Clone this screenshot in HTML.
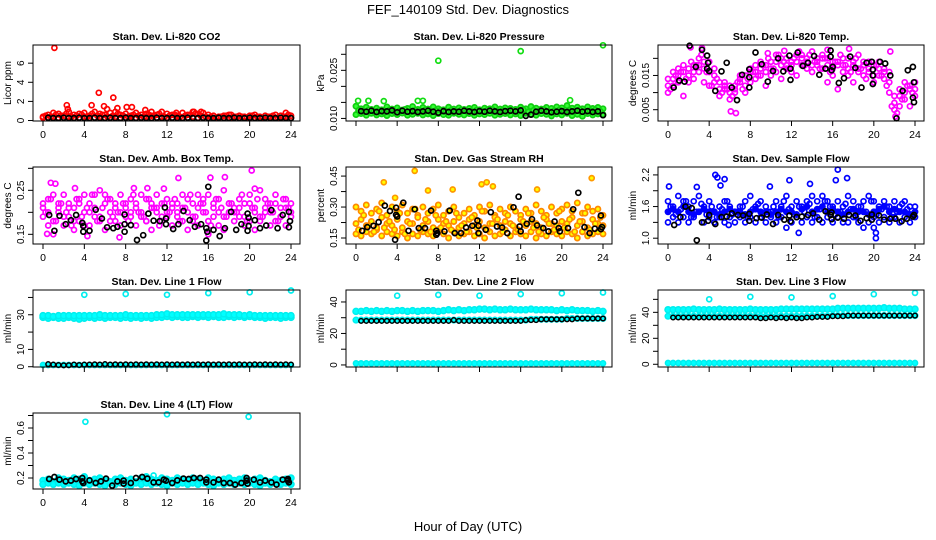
<!DOCTYPE html>
<html><head><meta charset="utf-8"><style>
html,body{margin:0;padding:0;background:#fff}
svg{display:block;font-family:"Liberation Sans",Arial,sans-serif}
</style></head><body>
<svg id="chart" width="936" height="540" viewBox="0 0 936 540" xmlns="http://www.w3.org/2000/svg">
<rect width="936" height="540" fill="#fff"/>
<text x="468" y="14" font-size="13" text-anchor="middle">FEF_140109  Std. Dev. Diagnostics</text>
<text x="468" y="531" font-size="13" text-anchor="middle">Hour of Day (UTC)</text>
</svg>
<script>
const H=[0,0.5,1,1.5,2,2.5,3,3.5,4,4.5,5,5.5,6,6.5,7,7.5,8,8.5,9,9.5,10,10.5,11,11.5,12,12.5,13,13.5,14,14.5,15,15.5,16,16.5,17,17.5,18,18.5,19,19.5,20,20.5,21,21.5,22,22.5,23,23.5,24];
const H2=[0.25,0.75,1.25,1.75,2.25,2.75,3.25,3.75,4.25,4.75,5.25,5.75,6.25,6.75,7.25,7.75,8.25,8.75,9.25,9.75,10.25,10.75,11.25,11.75,12.25,12.75,13.25,13.75,14.25,14.75,15.25,15.75,16.25,16.75,17.25,17.75,18.25,18.75,19.25,19.75,20.25,20.75,21.25,21.75,22.25,22.75,23.25,23.75];
const xTicks=[0,4,8,12,16,20,24];
const xTickLabels=["0","4","8","12","16","20","24"];

// Panel 1 CO2
const co2A=[0.4,0.6,0.8,0.7,0.5,0.9,0.6,0.7,0.8,0.5,0.9,0.7,0.6,0.8,0.9,0.6,0.7,0.5,0.8,0.6,0.7,0.5,0.6,0.9,0.7,0.6,0.5,0.8,0.6,0.9,0.7,0.8,0.6,0.5,0.4,0.5,0.6,0.4,0.5,0.4,0.5,0.6,0.4,0.5,0.4,0.6,0.5,0.4,0.5];
const co2B=[0.3,0.3,0.4,0.3,0.3,0.4,0.3,0.3,0.4,0.3,0.3,0.4,0.3,0.3,0.4,0.3,0.3,0.4,0.3,0.3,0.4,0.3,0.3,0.4,0.3,0.3,0.4,0.3,0.3,0.4,0.3,0.3,0.3,0.3,0.3,0.3,0.3,0.3,0.3,0.3,0.3,0.3,0.3,0.3,0.3,0.3,0.3,0.3,0.3];
const co2D=[0.5,0.4,0.6,0.5,0.7,0.4,0.5,0.6,0.4,0.7,0.5,0.6,0.4,0.5,0.7,0.5,0.4,0.6,0.5,0.4,0.6,0.5,0.7,0.4,0.5,0.6,0.4,0.5,0.6,0.7,0.5,0.4,0.4,0.3,0.4,0.5,0.3,0.4,0.4,0.3,0.5,0.4,0.3,0.4,0.5,0.3,0.4,0.6];
const co2OutX=[1.1,2.3,2.4,4.7,5.4,5.9,6.2,6.8,7.2,8.1,8.6,9.9,10.5,12.9,14.6,15.3,18.2,23.5];
const co2OutY=[7.6,1.6,1.2,1.6,2.9,1.5,1.2,2.4,1.3,1.4,1.4,1.1,0.9,0.8,0.9,0.9,0.6,0.8];
const co2K=[null,0.3,0.25,0.25,0.3,0.25,0.25,0.3,0.25,0.25,0.3,0.25,0.25,0.3,0.25,0.25,0.3,0.25,0.25,0.3,0.25,0.25,0.3,0.25,0.25,0.3,0.25,0.25,0.3,0.25,0.25,0.3,0.25,0.25,0.3,0.25,0.25,0.3,0.25,0.25,0.3,0.25,0.25,0.3,0.25,0.25,0.3,0.25,0.25];
const co2Ticks=[0,2,4,6];const co2Labels=["0","2","4","6"];

// Panel 2 Pressure
const prA=[0.0138,0.0130,0.0135,0.0128,0.0132,0.0127,0.0136,0.0129,0.0133,0.0126,0.0131,0.0137,0.0128,0.0134,0.0129,0.0136,0.0130,0.0127,0.0135,0.0129,0.0133,0.0128,0.0131,0.0134,0.0127,0.0132,0.0130,0.0136,0.0129,0.0133,0.0131,0.0128,0.0135,0.0130,0.0137,0.0132,0.0129,0.0134,0.0131,0.0136,0.0133,0.0140,0.0132,0.0135,0.0130,0.0136,0.0131,0.0134,0.0130];
const prB=[0.0112,0.0115,0.0110,0.0116,0.0111,0.0114,0.0109,0.0115,0.0112,0.0117,0.0110,0.0113,0.0116,0.0111,0.0114,0.0109,0.0115,0.0112,0.0110,0.0116,0.0113,0.0111,0.0115,0.0110,0.0114,0.0112,0.0116,0.0110,0.0113,0.0115,0.0111,0.0114,0.0109,0.0116,0.0112,0.0110,0.0115,0.0113,0.0108,0.0114,0.0111,0.0116,0.0109,0.0113,0.0107,0.0115,0.0111,0.0114,0.0112];
const prD=[0.0125,0.0120,0.0127,0.0122,0.0125,0.0119,0.0126,0.0121,0.0124,0.0128,0.0120,0.0125,0.0122,0.0127,0.0119,0.0124,0.0126,0.0121,0.0125,0.0120,0.0127,0.0123,0.0119,0.0126,0.0122,0.0125,0.0128,0.0121,0.0124,0.0120,0.0126,0.0123,0.0127,0.0120,0.0125,0.0122,0.0128,0.0121,0.0124,0.0126,0.0120,0.0125,0.0123,0.0127,0.0121,0.0124,0.0126,0.0122];
const prOutX=[0.2,1.2,2.7,6.0,6.5,8.0,16.0,20.8,24.0];
const prOutY=[0.0155,0.0155,0.0154,0.0155,0.0155,0.0280,0.0310,0.0157,0.0328];
const prK=[null,0.0123,0.0121,0.0124,0.0120,0.0123,0.0122,0.0125,0.0119,0.0124,0.0121,0.0123,0.0120,0.0122,0.0124,0.0121,0.0118,0.0123,0.0120,0.0122,0.0121,0.0124,0.0122,0.0120,0.0123,0.0121,0.0124,0.0122,0.0120,0.0123,0.0124,0.0122,0.0125,0.0108,0.0112,0.0121,0.0124,0.0122,0.0119,0.0121,0.0123,0.0120,0.0122,0.0124,0.0121,0.0123,0.0120,0.0122,0.0110];
const prTicks=[0.010,0.015,0.020,0.025,0.030];const prLabels=["0.010","","","0.025",""];

// Panel 3 Li-820 Temp
const tA=[0.014,0.012,0.017,0.016,0.013,0.018,0.020,0.017,0.019,0.015,0.013,0.011,0.012,0.010,0.013,0.012,0.016,0.018,0.017,0.016,0.019,0.021,0.018,0.020,0.019,0.021,0.018,0.020,0.022,0.019,0.021,0.018,0.017,0.019,0.016,0.020,0.018,0.017,0.019,0.016,0.018,0.015,0.017,0.016,0.007,0.009,0.008,0.012,0.011];
const tB=[0.010,0.016,0.013,0.009,0.015,0.014,0.016,0.013,0.012,0.017,0.009,0.013,0.008,0.011,0.015,0.010,0.013,0.014,0.015,0.012,0.017,0.016,0.014,0.018,0.016,0.015,0.020,0.017,0.016,0.018,0.020,0.013,0.019,0.011,0.018,0.015,0.013,0.021,0.015,0.019,0.013,0.017,0.014,0.010,0.005,0.011,0.013,0.006,0.009];
const tC=[0.012,0.014,0.015,0.018,0.017,0.016,0.018,0.019,0.016,0.013,0.011,0.012,0.010,0.012,0.014,0.015,0.017,0.016,0.019,0.018,0.015,0.019,0.020,0.017,0.018,0.019,0.021,0.019,0.018,0.020,0.017,0.020,0.015,0.018,0.020,0.017,0.019,0.016,0.018,0.017,0.015,0.019,0.016,0.013,0.009,0.006,0.010,0.011,0.013];
const tD=[0.011,0.015,0.016,0.014,0.019,0.018,0.021,0.016,0.012,0.014,0.010,0.011,0.009,0.013,0.011,0.014,0.016,0.015,0.018,0.020,0.017,0.021,0.019,0.017,0.020,0.022,0.018,0.021,0.019,0.017,0.020,0.016,0.019,0.021,0.018,0.016,0.020,0.017,0.014,0.019,0.018,0.015,0.012,0.006,0.004,0.008,0.012,0.010];
const tOutX=[2.2,3.3,6.1,6.6,9.7,11.3,15.5,17.6,21.6,22.1];
const tOutY=[0.0232,0.0230,0.0045,0.0040,0.0215,0.0222,0.0225,0.0228,0.0220,0.0030];
const tKX=[0.55,1.1,1.6,2.1,2.7,3.3,3.8,3.9,3.8,4.0,4.6,5.2,5.7,6.2,6.7,7.2,7.9,7.9,7.9,8.5,9.1,9.7,10.2,10.7,11.2,11.8,11.9,11.9,12.6,13.1,13.6,14.2,14.7,15.3,15.8,15.8,15.9,16.0,16.6,17.1,17.7,18.2,18.8,19.3,19.8,19.9,19.9,19.9,20.6,21.1,21.6,22.2,22.8,23.3,23.8,23.9,23.8,23.9];
const tKY=[0.0115,0.0135,0.0132,0.0237,0.0175,0.0225,0.0208,0.0187,0.0170,0.0163,0.0105,0.0162,0.0187,0.0115,0.0078,0.0152,0.0145,0.0115,0.0168,0.0217,0.0183,0.0132,0.0163,0.0200,0.0162,0.0208,0.0137,0.0170,0.0217,0.0178,0.0187,0.0207,0.0152,0.0170,0.0223,0.0205,0.0165,0.0175,0.0128,0.0142,0.0205,0.0172,0.0115,0.0187,0.0190,0.0167,0.0150,0.0125,0.0190,0.0185,0.0150,0.0025,0.0105,0.0165,0.0175,0.0130,0.0085,0.0072];
const tTicks=[0.005,0.010,0.015,0.020];const tLabels=["0.005","","0.015",""];

// Panel 4 Amb Box Temp
const abA=[0.22,0.23,0.24,0.21,0.24,0.22,0.21,0.23,0.24,0.22,0.24,0.25,0.24,0.23,0.22,0.24,0.21,0.23,0.22,0.24,0.23,0.21,0.24,0.22,0.23,0.21,0.22,0.24,0.23,0.22,0.24,0.23,0.24,0.22,0.23,0.25,0.22,0.21,0.23,0.22,0.24,0.21,0.25,0.23,0.22,0.24,0.21,0.23,0.22];
const abB=[0.19,0.17,0.18,0.20,0.17,0.19,0.16,0.18,0.20,0.17,0.19,0.18,0.16,0.20,0.18,0.17,0.19,0.20,0.17,0.19,0.18,0.16,0.20,0.18,0.19,0.17,0.20,0.18,0.16,0.19,0.17,0.20,0.18,0.19,0.17,0.16,0.20,0.18,0.19,0.17,0.18,0.16,0.19,0.20,0.17,0.18,0.19,0.17,0.19];
const abC=[0.21,0.20,0.15,0.22,0.19,0.21,0.18,0.22,0.17,0.20,0.21,0.19,0.22,0.18,0.21,0.20,0.22,0.19,0.21,0.20,0.18,0.22,0.21,0.19,0.20,0.22,0.19,0.21,0.20,0.18,0.21,0.22,0.15,0.21,0.20,0.19,0.22,0.20,0.21,0.19,0.22,0.20,0.18,0.21,0.20,0.22,0.19,0.21,0.20];
const abD=[0.20,0.23,0.18,0.22,0.20,0.17,0.23,0.19,0.21,0.24,0.18,0.21,0.23,0.19,0.20,0.22,0.18,0.24,0.20,0.19,0.23,0.21,0.17,0.22,0.20,0.23,0.18,0.21,0.24,0.19,0.22,0.20,0.17,0.23,0.21,0.19,0.22,0.20,0.24,0.18,0.21,0.23,0.19,0.22,0.20,0.18,0.23,0.21];
const abOutX=[0.75,1.2,3.1,8.8,10.1,11.7,13.1,16.2,17.6,20.2,20.5,0.4,4.3,7.4];
const abOutY=[0.267,0.265,0.255,0.255,0.255,0.254,0.278,0.279,0.280,0.295,0.254,0.151,0.146,0.143];
const abKX=[0.6,1.1,1.6,2.2,2.7,3.2,3.8,3.9,3.9,4.5,5.1,5.7,6.2,6.8,7.2,7.9,7.9,7.9,8.5,9.1,9.7,10.2,10.7,11.3,11.8,11.9,11.9,12.6,13.1,13.6,14.2,14.7,15.3,15.8,16.0,15.8,15.9,16.5,17.1,17.6,18.2,18.7,19.2,19.8,19.9,19.9,19.8,20.5,21.0,21.6,22.1,22.7,23.2,23.8,23.9,23.8];
const abKY=[0.194,0.158,0.192,0.173,0.182,0.194,0.176,0.169,0.156,0.158,0.206,0.186,0.166,0.164,0.167,0.195,0.173,0.156,0.171,0.137,0.148,0.197,0.181,0.180,0.211,0.186,0.173,0.162,0.173,0.203,0.182,0.167,0.173,0.164,0.258,0.136,0.156,0.160,0.146,0.164,0.201,0.160,0.173,0.197,0.188,0.169,0.158,0.182,0.164,0.170,0.205,0.164,0.194,0.201,0.180,0.166];
const abTicks=[0.15,0.20,0.25,0.30];const abLabels=["0.15","","0.25",""];

// Panel 5 Gas Stream RH
const rhA=[0.30,0.28,0.31,0.27,0.29,0.32,0.26,0.30,0.28,0.31,0.27,0.29,0.26,0.30,0.27,0.29,0.31,0.26,0.28,0.30,0.25,0.27,0.29,0.26,0.30,0.28,0.31,0.26,0.29,0.27,0.30,0.28,0.26,0.29,0.27,0.31,0.28,0.26,0.30,0.27,0.29,0.31,0.28,0.32,0.27,0.30,0.28,0.29,0.26];
const rhB=[0.17,0.16,0.18,0.17,0.19,0.16,0.18,0.17,0.16,0.18,0.15,0.17,0.16,0.18,0.17,0.16,0.19,0.17,0.15,0.18,0.16,0.17,0.18,0.16,0.17,0.15,0.18,0.16,0.17,0.19,0.16,0.18,0.17,0.16,0.18,0.15,0.17,0.16,0.18,0.17,0.16,0.18,0.17,0.15,0.18,0.16,0.17,0.18,0.17];
const rhC=[0.22,0.24,0.21,0.23,0.20,0.25,0.22,0.21,0.24,0.20,0.23,0.22,0.25,0.21,0.23,0.20,0.24,0.22,0.21,0.23,0.20,0.22,0.24,0.21,0.23,0.20,0.22,0.25,0.21,0.23,0.22,0.20,0.24,0.21,0.23,0.22,0.20,0.24,0.22,0.21,0.23,0.22,0.25,0.21,0.23,0.20,0.24,0.22,0.21];
const rhD=[0.19,0.26,0.21,0.18,0.28,0.20,0.23,0.19,0.27,0.17,0.22,0.29,0.19,0.24,0.18,0.26,0.20,0.23,0.19,0.27,0.21,0.18,0.25,0.20,0.28,0.19,0.22,0.24,0.18,0.26,0.21,0.19,0.23,0.27,0.20,0.18,0.25,0.22,0.19,0.28,0.20,0.24,0.18,0.23,0.27,0.19,0.22,0.25];
const rhOutX=[2.7,5.7,3.8,7.0,9.4,12.2,12.7,13.3,17.6,22.9];
const rhOutY=[0.420,0.475,0.345,0.380,0.385,0.410,0.420,0.400,0.385,0.440];
const rhKX=[0.6,1.1,1.7,2.2,2.8,3.3,3.9,3.9,4.0,3.8,4.6,5.1,5.7,6.1,6.7,7.3,7.8,7.8,7.9,8.6,9.1,9.6,10.2,10.7,11.3,11.8,11.9,11.9,12.6,13.1,13.7,14.2,14.7,15.3,15.8,15.9,16.0,16.6,17.1,17.6,18.2,18.7,19.3,19.7,19.8,20.6,21.1,21.6,22.2,22.7,23.2,23.8,23.9,23.8];
const rhKY=[0.185,0.203,0.209,0.227,0.307,0.281,0.297,0.262,0.254,0.142,0.321,0.185,0.289,0.198,0.198,0.283,0.185,0.166,0.174,0.182,0.283,0.174,0.174,0.201,0.209,0.235,0.209,0.174,0.190,0.275,0.206,0.201,0.174,0.299,0.350,0.206,0.182,0.219,0.241,0.211,0.198,0.182,0.230,0.198,0.182,0.198,0.289,0.369,0.203,0.174,0.195,0.259,0.203,0.193];
const rhTicks=[0.15,0.225,0.30,0.375,0.45];const rhLabels=["0.15","","0.30","","0.45"];

// Panel 6 Sample Flow
const sfA=[1.7,1.6,1.8,1.7,1.6,1.7,1.8,1.6,1.7,1.5,1.6,1.7,1.6,1.5,1.6,1.7,1.8,1.6,1.7,1.6,1.5,1.7,1.6,1.8,1.6,1.7,1.6,1.7,1.8,1.7,1.8,1.7,1.6,1.7,1.6,1.8,1.7,1.6,1.7,1.8,1.7,1.6,1.7,1.6,1.7,1.6,1.7,1.6,1.6];
const sfB=[1.3,1.4,1.3,1.4,1.3,1.4,1.5,1.3,1.4,1.3,1.4,1.3,1.4,1.3,1.4,1.3,1.4,1.3,1.4,1.3,1.4,1.3,1.4,1.2,1.3,1.4,1.3,1.4,1.3,1.4,1.3,1.4,1.3,1.4,1.3,1.3,1.4,1.3,1.2,1.3,1.4,1.3,1.4,1.3,1.4,1.3,1.4,1.3,1.4];
const sfC=[1.5,1.55,1.5,1.6,1.5,1.45,1.5,1.55,1.5,1.5,1.45,1.5,1.55,1.5,1.5,1.45,1.5,1.55,1.5,1.5,1.45,1.5,1.55,1.5,1.5,1.45,1.55,1.6,1.5,1.55,1.6,1.5,1.55,1.5,1.45,1.5,1.55,1.5,1.5,1.45,1.5,1.55,1.6,1.5,1.55,1.5,1.5,1.45,1.5];
const sfD=[1.6,1.45,1.55,1.7,1.4,1.5,1.65,1.45,1.6,1.4,1.55,1.7,1.45,1.5,1.6,1.4,1.55,1.65,1.45,1.5,1.6,1.4,1.7,1.55,1.45,1.6,1.5,1.65,1.4,1.55,1.7,1.6,1.45,1.5,1.65,1.55,1.4,1.6,1.5,1.7,1.45,1.55,1.6,1.4,1.5,1.65,1.55,1.45];
const sfOutX=[0.1,2.8,4.6,4.8,5.1,5.5,9.9,11.8,13.8,16.3,16.5,17.4,20.0,20.2,12.7,5.9,20.2];
const sfOutY=[1.98,1.97,2.20,2.15,2.00,2.12,1.98,2.10,2.03,2.10,2.30,2.14,1.20,1.10,1.10,1.25,1.00];
const sfKX=[0.6,1.2,1.7,2.3,2.8,3.3,3.9,4.0,4.6,5.2,5.7,6.2,6.8,7.3,7.9,7.9,8.6,9.1,9.6,10.2,10.7,11.3,11.8,11.9,12.5,13.0,13.6,14.1,14.7,15.3,15.8,15.9,15.9,16.5,17.1,17.6,18.2,18.7,19.3,19.8,19.8,20.5,21.0,21.6,22.1,22.7,23.2,23.8,23.9];
const sfKY=[1.25,1.40,1.60,1.57,0.96,1.30,1.33,1.44,1.27,1.40,1.41,1.47,1.44,1.43,1.46,1.33,1.38,1.39,1.45,1.27,1.44,1.35,1.43,1.32,1.40,1.41,1.44,1.47,1.35,1.51,1.44,1.36,1.49,1.39,1.37,1.44,1.43,1.33,1.38,1.45,1.35,1.43,1.35,1.37,1.37,1.32,1.37,1.41,1.44];
const sfTicks=[1.0,1.3,1.6,1.9,2.2];const sfLabels=["1.0","","1.6","","2.2"];

// Panel 7 Line 1 Flow
const l1A=[28.5,28,28.5,28,28,28.5,28,27.5,28,28.5,28,28.5,28,28.5,28.5,28,28.5,28,28.5,28,28.5,28,28.5,28.5,29,28.5,29,28.5,28.5,29,28.5,29,28.5,29,28.5,28.5,29,28.5,29,28.5,29,28.5,28.5,28,28.5,28.5,28,28.5,28.5];
const l1B=[29.5,29.5,29,29.5,29.5,29.5,29.5,29.5,29.5,29.5,29.5,30,29.5,29.5,29.5,29.5,30,29.5,29.5,29.5,29.5,29.5,30,30,30.5,30,30,30,30,30,30,30,30,30,30,30.5,30,30,30,29.5,30,29.5,29.5,29.5,29.5,29.5,29.5,29.5,29.5];
const l1C=[1,1,1,1,1,1,1,1,1,1,1,1,1,1,1,1,1,1,1,1,1,1,1,1,1,1,1,1,1,1,1,1,1,1,1,1,1,1,1,1,1,1,1,1,1,1,1,1,1];
const l1OutX=[4,8,12,16,20,24];const l1OutY=[41.5,42,41.5,42.5,43,44];
const l1K=[null,1.5,1.2,1.0,0.8,0.9,1.3,1.0,1.2,1.3,1.4,1.3,1.5,1.3,1.4,1.3,1.4,1.3,1.4,1.3,1.4,1.3,1.4,1.3,1.4,1.3,1.4,1.3,1.4,1.3,1.4,1.3,1.4,1.3,1.4,1.3,1.4,1.3,1.4,1.3,1.3,1.4,1.3,1.4,1.3,1.4,1.3,1.4,1.3];
const l1Ticks=[0,10,20,30,40];const l1Labels=["0","10","","30",""];

// Panel 8 Line 2 Flow
const l2A=[34,34,34.5,34,34.5,34,34.5,34,34.5,34.5,34,34.5,34,34.5,34.5,34.5,34,34.5,35,34.5,35,34.5,35,35,35.5,35.5,35,35.5,35,35,35.5,35,35,35,35.5,35,35,35,35,34.5,35,34.5,35,34.5,34.5,34.5,34,34.5,34];
const l2B=[28.5,28.5,28.5,28.5,28.5,28.5,28.5,28.5,28.5,28.5,28.5,28.5,28.5,28.5,28.5,28.5,28.5,28.5,28.5,28.5,28.5,28.5,28.5,28.5,28.5,28.5,28.5,28.5,28.5,28.5,28.5,28.5,28.5,28.5,29,29,29,29,29,29,29,29.5,29.5,29.5,29.5,29.5,29.5,29.5,29.5];
const l2C=[1,1,1,1,1,1,1,1,1,1,1,1,1,1,1,1,1,1,1,1,1,1,1,1,1,1,1,1,1,1,1,1,1,1,1,1,1,1,1,1,1,1,1,1,1,1,1,1,1];
const l2OutX=[4,8,12,16,20,24];const l2OutY=[44,44.5,44,45,45.5,46];
const l2K=[null,28,28,28,28,28,28,28,28,28,28,28,28,28,28,28,28,28,28,28.5,28,28,28,28,28,28,28,28,28,28,28,28,28,28.5,28.5,28.5,29,29,29,29,29,29,29,29.5,29.5,29.5,29.5,29.5,29.5];
const l2Ticks=[0,10,20,30,40];const l2Labels=["0","","20","","40"];

// Panel 9 Line 3 Flow
const l3A=[42,42,42,42,42,42.5,42,42,42,42,42.5,42,42,42,42,42,42.5,42,42,42,42,42,42.5,42.5,42.5,42.5,42.5,42.5,42.5,42.5,42.5,42.5,42.5,43,43,43,43,43,43,43,43,43,43.5,43,43,43,42.5,42.5,42.5];
const l3B=[37,37,37,37,37,37,37,37,37,37,37,37,37,37,37,37,37,37,37,37,37,37,37,37,37,37,37,37,37,37,37,37,37.5,37.5,37.5,37.5,37.5,37.5,37.5,37.5,37.5,37.5,37.5,37.5,37.5,37.5,37.5,37.5,37.5];
const l3C=[1,1,1,1,1,1,1,1,1,1,1,1,1,1,1,1,1,1,1,1,1,1,1,1,1,1,1,1,1,1,1,1,1,1,1,1,1,1,1,1,1,1,1,1,1,1,1,1,1];
const l3OutX=[4,8,12,16,20,24];const l3OutY=[50,52,51.5,52.5,54,55];
const l3K=[null,36,36,36,36,36,36,36,36,36,36,36,36,36,36,36,36,36,35.5,35.5,36,35.5,36,35.5,36,35.5,35.5,36,36,36.5,36.5,36.5,37,37,37,37.5,37.5,37.5,37.5,37.5,37.5,37.5,37.5,37.5,37.5,37.5,37.5,37.5,37.5];
const l3Ticks=[0,10,20,30,40,50];const l3Labels=["0","","20","","40",""];

// Panel 10 Line 4 (LT) Flow
const l4A=[0.18,0.19,0.17,0.2,0.19,0.18,0.2,0.19,0.21,0.18,0.19,0.2,0.18,0.17,0.19,0.2,0.18,0.19,0.17,0.2,0.21,0.19,0.18,0.2,0.19,0.18,0.2,0.19,0.18,0.2,0.19,0.18,0.2,0.19,0.17,0.19,0.2,0.18,0.19,0.2,0.18,0.19,0.2,0.18,0.17,0.19,0.18,0.19,0.2];
const l4B=[0.15,0.16,0.15,0.16,0.15,0.16,0.15,0.14,0.16,0.15,0.16,0.15,0.14,0.16,0.15,0.16,0.15,0.14,0.16,0.15,0.16,0.15,0.16,0.15,0.14,0.16,0.15,0.16,0.15,0.16,0.15,0.16,0.15,0.14,0.16,0.15,0.16,0.15,0.16,0.15,0.16,0.15,0.14,0.16,0.15,0.16,0.15,0.16,0.15];
const l4OutX=[4.1,12.0,19.9,10.7];const l4OutY=[0.65,0.71,0.69,0.22];
const l4KX=[0.6,1.1,1.6,2.2,2.7,3.2,3.8,3.8,3.9,4.5,5.1,5.6,6.1,6.7,7.2,7.8,7.8,8.5,9.0,9.6,10.1,10.7,11.2,11.7,11.9,12.5,13.0,13.6,14.1,14.6,15.2,15.8,15.8,16.5,17.0,17.5,18.1,18.6,19.2,19.7,19.8,19.7,20.4,21.0,21.5,22.1,22.6,23.2,23.7,23.8,23.7];
const l4KY=[0.192,0.208,0.187,0.173,0.179,0.192,0.200,0.173,0.160,0.181,0.160,0.173,0.195,0.139,0.173,0.179,0.155,0.160,0.200,0.208,0.195,0.165,0.165,0.187,0.179,0.160,0.181,0.195,0.192,0.200,0.200,0.187,0.165,0.165,0.187,0.160,0.160,0.147,0.160,0.200,0.155,0.179,0.187,0.165,0.179,0.165,0.147,0.187,0.179,0.165,0.192];
const l4Ticks=[0.2,0.3,0.4,0.5,0.6,0.7];const l4Labels=["0.2","","0.4","","0.6",""];

const NS="http://www.w3.org/2000/svg";
const svg=document.getElementById('chart');
const colX0=[33,346,658],colX1=[300,612,924];
const rowY0=[45,167,290,413],rowY1=[121,244,367,489];
function mk(tag,attrs,parent){const e=document.createElementNS(NS,tag);for(const k in attrs)e.setAttribute(k,attrs[k]);(parent||svg).appendChild(e);return e;}

function drawPanel(p){
  const x0=colX0[p.col],x1=colX1[p.col],y0=rowY0[p.row],y1=rowY1[p.row];
  const g=mk('g',{});
  
  
  const sx=v=>x0+10+(v/24)*(x1-x0-19);
  const sy=v=>y1-(v-p.lo)/(p.hi-p.lo)*(y1-y0);
  const t=mk('text',{x:(x0+x1)/2,y:y0-5,'font-size':10.5,'font-weight':'bold','text-anchor':'middle'},g);
  t.textContent=p.title;
  
  
  function pts(xs,ys,stroke,fill,r,sw,nm){
    const sg=mk('g',{},g);
    
    
    for(let i=0;i<ys.length;i++){
      if(ys[i]===null)continue;
      const c=mk('circle',{cx:sx(xs[i]).toFixed(1),cy:sy(ys[i]).toFixed(1),r:r,stroke:stroke,'stroke-width':sw,fill:fill},sg);
      
      
    }
  }
  p.series.forEach(s=>pts(s.x,s.y,s.stroke,s.fill,s.r,s.sw,s.nm));
  const b=mk('rect',{x:x0,y:y0,width:x1-x0,height:y1-y0,fill:'none',stroke:'#000','stroke-width':1},g);
  
  
  const xa=mk('g',{},g);
  
  
  xTicks.forEach((v,i)=>{
    mk('line',{x1:sx(v),x2:sx(v),y1:y1,y2:y1+5,stroke:'#000'},xa);
    if(p.xlab){const tl=mk('text',{x:sx(v),y:y1+17,'font-size':10.5,'text-anchor':'middle'},xa);tl.textContent=xTickLabels[i];}
  });
  const ya=mk('g',{},g);
  
  
  mk('line',{x1:x0,x2:x0,y1:sy(p.ticks[0]),y2:sy(p.ticks[p.ticks.length-1]),stroke:'#000'},ya);
  p.ticks.forEach((v,i)=>{
    const y=sy(v);
    mk('line',{x1:x0-5,x2:x0,y1:y,y2:y,stroke:'#000'},ya);
    if(p.labels[i]){const tl=mk('text',{x:x0-9,y:y,'font-size':10,'text-anchor':'middle',transform:`rotate(-90 ${x0-9} ${y})`},ya);tl.textContent=p.labels[i];}
  });
  const yt=mk('text',{x:x0-22,y:(y0+y1)/2,'font-size':10,'text-anchor':'middle',transform:`rotate(-90 ${x0-22} ${(y0+y1)/2})`},g);
  yt.textContent=p.ytitle;
  
  
}
const K='#000';
function S(x,y,stroke,fill,r,sw,nm){return {x,y,stroke,fill,r,sw,nm};}
const panels=[
 {name:'panel-co2',col:0,row:0,title:'Stan. Dev. Li-820 CO2',ytitle:'Licor ppm',lo:-0.05,hi:7.9,ticks:co2Ticks,labels:co2Labels,xlab:true,
  series:[S(H,co2A,'#f00','none',2.5,1.7,'co2-series'),S(H,co2B,'#f00','none',2.5,1.7,'co2-series-low'),S(H2,co2D,'#f00','none',2.5,1.7,'co2-series-2'),S(co2OutX,co2OutY,'#f00','none',2.5,1.7,'co2-outliers'),S(H,co2K,K,'none',2.5,1.7,'co2-black-series')]},
 {name:'panel-pressure',col:1,row:0,title:'Stan. Dev. Li-820 Pressure',ytitle:'kPa',lo:0.0092,hi:0.0329,ticks:prTicks,labels:prLabels,xlab:false,
  series:[S(H,prA,'#1c1','#3f3',2.6,1.7,'pressure-series'),S(H,prB,'#1c1','#3f3',2.6,1.7,'pressure-series-low'),S(H2,prD,'#1c1','#3f3',2.6,1.7,'pressure-series-2'),S(prOutX,prOutY,'#1d1','none',2.5,1.7,'pressure-outliers'),S(H,prK,K,'none',2.5,1.7,'pressure-black-series')]},
 {name:'panel-li820-temp',col:2,row:0,title:'Stan. Dev. Li-820 Temp.',ytitle:'degrees C',lo:0.0017,hi:0.0239,ticks:tTicks,labels:tLabels,xlab:true,
  series:[S(H,tA,'#f0f','none',2.5,1.7,'temp-series'),S(H,tB,'#f0f','none',2.5,1.7,'temp-series-2'),S(H,tC,'#f0f','none',2.5,1.7,'temp-series-3'),S(H2,tD,'#f0f','none',2.5,1.7,'temp-series-4'),S(tOutX,tOutY,'#f0f','none',2.5,1.7,'temp-outliers'),S(tKX,tKY,K,'none',2.5,1.7,'temp-black-series')]},
 {name:'panel-amb-box-temp',col:0,row:1,title:'Stan. Dev. Amb. Box Temp.',ytitle:'degrees C',lo:0.128,hi:0.303,ticks:abTicks,labels:abLabels,xlab:true,
  series:[S(H,abA,'#f0f','none',2.5,1.7,'ambtemp-series'),S(H,abB,'#f0f','none',2.5,1.7,'ambtemp-series-2'),S(H,abC,'#f0f','none',2.5,1.7,'ambtemp-series-3'),S(H2,abD,'#f0f','none',2.5,1.7,'ambtemp-series-4'),S(abOutX,abOutY,'#f0f','none',2.5,1.7,'ambtemp-outliers'),S(abKX,abKY,K,'none',2.5,1.7,'ambtemp-black-series')]},
 {name:'panel-gas-rh',col:1,row:1,title:'Stan. Dev. Gas Stream RH',ytitle:'percent',lo:0.121,hi:0.494,ticks:rhTicks,labels:rhLabels,xlab:true,
  series:[S(H,rhA,'#f80','#ff0',2.6,1.7,'rh-series'),S(H,rhB,'#f80','#ff0',2.6,1.7,'rh-series-2'),S(H,rhC,'#f80','#ff0',2.6,1.7,'rh-series-3'),S(H2,rhD,'#f80','#ff0',2.6,1.7,'rh-series-4'),S(rhOutX,rhOutY,'#f90','#ff0',2.5,1.7,'rh-outliers'),S(rhKX,rhKY,K,'none',2.5,1.7,'rh-black-series')]},
 {name:'panel-sample-flow',col:2,row:1,title:'Stan. Dev. Sample Flow',ytitle:'ml/min',lo:0.89,hi:2.35,ticks:sfTicks,labels:sfLabels,xlab:true,
  series:[S(H,sfA,'#00f','none',2.5,1.7,'sampleflow-series'),S(H,sfB,'#00f','none',2.5,1.7,'sampleflow-series-2'),S(H,sfC,'#00f','#00f',2.6,1.7,'sampleflow-series-3'),S(H2,sfD,'#00f','none',2.5,1.7,'sampleflow-series-4'),S(sfOutX,sfOutY,'#00f','none',2.5,1.7,'sampleflow-outliers'),S(sfKX,sfKY,K,'none',2.5,1.7,'sampleflow-black-series')]},
 {name:'panel-line1-flow',col:0,row:2,title:'Stan. Dev. Line 1 Flow',ytitle:'ml/min',lo:-0.16,hi:44.3,ticks:l1Ticks,labels:l1Labels,xlab:false,
  series:[S(H,l1A,'#0ee','#0ff',3,1.5,'line1-band'),S(H,l1B,'#0ee','#0ff',3,1.5,'line1-band-2'),S(H,l1C,'#0ee','#0ff',2.6,1.5,'line1-low-band'),S(l1OutX,l1OutY,'#0ee','none',2.5,1.7,'line1-outliers'),S(H,l1K,K,'none',2.3,1.5,'line1-black-series')]},
 {name:'panel-line2-flow',col:1,row:2,title:'Stan. Dev. Line 2 Flow',ytitle:'ml/min',lo:-1.3,hi:47.6,ticks:l2Ticks,labels:l2Labels,xlab:false,
  series:[S(H,l2A,'#0ee','#0ff',3,1.5,'line2-band'),S(H,l2B,'#0ee','#0ff',2.8,1.5,'line2-band-2'),S(H,l2C,'#0ee','#0ff',2.6,1.5,'line2-low-band'),S(l2OutX,l2OutY,'#0ee','none',2.5,1.7,'line2-outliers'),S(H,l2K,K,'none',2.3,1.5,'line2-black-series')]},
 {name:'panel-line3-flow',col:2,row:2,title:'Stan. Dev. Line 3 Flow',ytitle:'ml/min',lo:-2.1,hi:57.2,ticks:l3Ticks,labels:l3Labels,xlab:false,
  series:[S(H,l3A,'#0ee','#0ff',3,1.5,'line3-band'),S(H,l3B,'#0ee','#0ff',2.8,1.5,'line3-band-2'),S(H,l3C,'#0ee','#0ff',2.6,1.5,'line3-low-band'),S(l3OutX,l3OutY,'#0ee','none',2.5,1.7,'line3-outliers'),S(H,l3K,K,'none',2.3,1.5,'line3-black-series')]},
 {name:'panel-line4-flow',col:0,row:3,title:'Stan. Dev. Line 4 (LT) Flow',ytitle:'ml/min',lo:0.112,hi:0.72,ticks:l4Ticks,labels:l4Labels,xlab:true,
  series:[S(H,l4A,'#0ee','#0ff',3,1.5,'line4-band'),S(H,l4B,'#0ee','#0ff',3,1.5,'line4-band-2'),S(l4OutX,l4OutY,'#0ee','none',2.5,1.7,'line4-outliers'),S(l4KX,l4KY,K,'none',2.5,1.7,'line4-black-series')]}
];
panels.forEach(drawPanel);
</script>
</body></html>
